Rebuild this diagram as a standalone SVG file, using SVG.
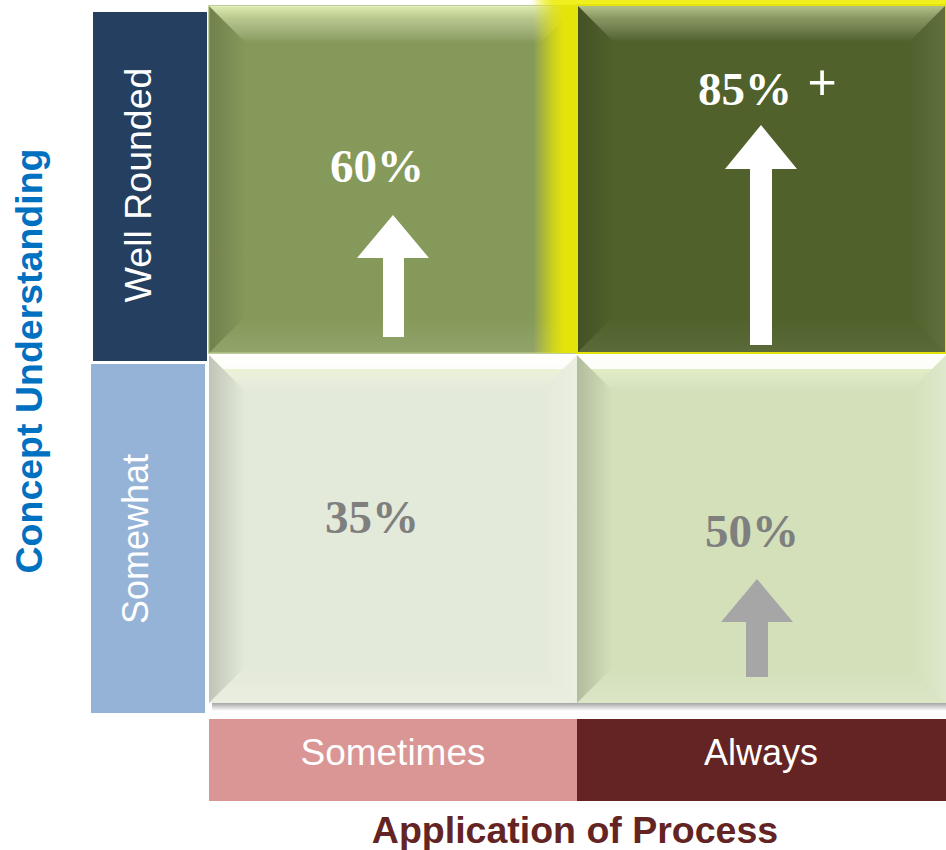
<svg xmlns="http://www.w3.org/2000/svg" width="946" height="850" viewBox="0 0 946 850">
<style>
.lab{font-family:"Liberation Sans",Arial,sans-serif;font-size:36px;fill:#ffffff;text-anchor:middle}
.axis{font-family:"Liberation Sans",Arial,sans-serif;font-size:37.5px;font-weight:bold;text-anchor:middle}
.pct{font-family:"Liberation Serif","Times New Roman",serif;font-size:47px;font-weight:bold;text-anchor:middle}
.hiT{fill:url(#gTop)}
.shL{fill:url(#gLeft)}
.hiR{fill:url(#gRight)}
.hiB{fill:url(#gBot)}
</style>
<defs>
<linearGradient id="gTop" x1="0" y1="0" x2="0" y2="1">
<stop offset="0" stop-color="#F4FFC8" stop-opacity="0.8"/>
<stop offset="0.35" stop-color="#F4FFC8" stop-opacity="0.45"/>
<stop offset="1" stop-color="#ffffff" stop-opacity="0"/>
</linearGradient>
<linearGradient id="gLeft" x1="0" y1="0" x2="1" y2="0">
<stop offset="0" stop-color="#000000" stop-opacity="0.16"/>
<stop offset="1" stop-color="#000000" stop-opacity="0"/>
</linearGradient>
<linearGradient id="gRight" x1="1" y1="0" x2="0" y2="0">
<stop offset="0" stop-color="#ffffff" stop-opacity="0.25"/>
<stop offset="1" stop-color="#ffffff" stop-opacity="0"/>
</linearGradient>
<linearGradient id="gBot" x1="0" y1="1" x2="0" y2="0">
<stop offset="0" stop-color="#ffffff" stop-opacity="0.2"/>
<stop offset="1" stop-color="#ffffff" stop-opacity="0"/>
</linearGradient>
<linearGradient id="glow" x1="0" y1="0" x2="1" y2="0">
<stop offset="0" stop-color="#E5E50A" stop-opacity="0"/>
<stop offset="0.45" stop-color="#E2E20C" stop-opacity="0.75"/>
<stop offset="0.7" stop-color="#E4E40A" stop-opacity="1"/>
<stop offset="1" stop-color="#E4E40A" stop-opacity="1"/>
</linearGradient>
<linearGradient id="glowTop" x1="0" y1="0" x2="1" y2="0">
<stop offset="0" stop-color="#F0F020" stop-opacity="0"/>
<stop offset="0.08" stop-color="#F0F020" stop-opacity="1"/>
<stop offset="1" stop-color="#F0F020" stop-opacity="1"/>
</linearGradient>
<linearGradient id="shadow" x1="0" y1="0" x2="0" y2="1">
<stop offset="0" stop-color="#808080" stop-opacity="0.7"/>
<stop offset="1" stop-color="#808080" stop-opacity="0"/>
</linearGradient>
</defs>

<!-- axis titles -->
<g id="axis-y">
<text class="axis" fill="#0070C0" transform="translate(42,361) rotate(-90)">Concept Understanding</text>
</g>
<g id="axis-x">
<text class="axis" fill="#632423" x="575" y="843">Application of Process</text>
</g>

<!-- row labels -->
<g id="label-well-rounded">
<rect x="93" y="12" width="114" height="349" fill="#243F60"/>
<text class="lab" font-size="37.5" transform="translate(151,185) rotate(-90)" style="font-size:37.5px">Well Rounded</text>
</g>
<g id="label-somewhat">
<rect x="91" y="364" width="114" height="349" fill="#95B3D7"/>
<text class="lab" transform="translate(148,539) rotate(-90)">Somewhat</text>
</g>

<!-- column labels -->
<g id="label-sometimes">
<rect x="209" y="719" width="368" height="82" fill="#D99694"/>
<text class="lab" x="393" y="765" style="font-size:37px">Sometimes</text>
</g>
<g id="label-always">
<rect x="577" y="719" width="369" height="82" fill="#632423"/>
<text class="lab" x="761" y="765">Always</text>
</g>

<!-- top-left cell -->
<g id="cell-top-left">
<rect x="209" y="6" width="368" height="347" fill="#85995A" stroke="#A9BC7C" stroke-width="1.5"/>
<polygon class="hiT" points="209,6 577,6 540,43 246,43"/>
<polygon class="shL" points="209,6 246,43 246,316 209,353"/>
<polygon class="hiB" points="209,353 246,316 540,316 577,353" opacity="0.5"/>
<polygon points="357,258 393,215 429,258 404,258 404,337 383,337 383,258" fill="#ffffff"/>
<text class="pct" fill="#ffffff" x="377" y="182">60%</text>
</g>

<!-- yellow glow around top-right cell -->
<g id="glow-top-right">
<rect x="533" y="0" width="44" height="353" fill="url(#glow)"/>
<rect x="530" y="0" width="416" height="5" fill="url(#glowTop)"/>
</g>

<!-- bottom cells shadow -->
<rect x="212" y="703" width="734" height="8" fill="url(#shadow)"/>

<!-- bottom-left cell -->
<g id="cell-bottom-left">
<rect x="209" y="355" width="368" height="348" fill="#E4EAD9"/>
<polygon points="209,355 577,355 541,391 245,391" fill="url(#gTop)"/>
<polygon points="209,355 577,355 563,369 223,369" fill="#ffffff" opacity="0.9"/>
<polygon class="shL" points="209,355 245,391 245,667 209,703"/>
<polygon class="hiR" points="577,355 541,391 541,667 577,703"/>
<polygon class="hiB" points="209,703 245,667 541,667 577,703"/>
<text class="pct" fill="#7F7F7F" x="372" y="533">35%</text>
</g>

<!-- bottom-right cell -->
<g id="cell-bottom-right">
<rect x="577" y="355" width="369" height="348" fill="#D3E0BA"/>
<polygon points="577,355 946,355 910,391 613,391" fill="url(#gTop)"/>
<polygon points="577,355 946,355 932,369 591,369" fill="#ffffff" opacity="0.9"/>
<polygon class="shL" points="577,355 613,391 613,667 577,703"/>
<polygon class="hiR" points="946,355 910,391 910,667 946,703"/>
<polygon class="hiB" points="577,703 613,667 910,667 946,703"/>
<polygon points="721,622 757,579 793,622 768,622 768,677 746,677 746,622" fill="#A6A6A6"/>
<text class="pct" fill="#7F7F7F" x="752" y="547">50%</text>
</g>

<!-- top-right cell -->
<g id="cell-top-right">
<rect x="577" y="5" width="369" height="348" fill="#50612C" stroke="#E4E40A" stroke-width="2"/>
<polygon class="hiT" points="578,6 945,6 909,42 614,42" opacity="0.75"/>
<polygon class="shL" points="578,6 614,42 614,316 578,352"/>
<polygon class="hiR" points="945,6 909,42 909,316 945,352" opacity="0.35"/>
<polygon class="hiB" points="578,352 614,316 909,316 945,352" opacity="0.3"/>
<polygon points="725,169 761,125 797,169 772,169 772,345 750,345 750,169" fill="#ffffff"/>
<text class="pct" fill="#ffffff" x="745" y="105">85%</text>
<text fill="#ffffff" x="822" y="99" font-family="'Liberation Sans',Arial,sans-serif" font-size="50" text-anchor="middle">+</text>
</g>
</svg>
